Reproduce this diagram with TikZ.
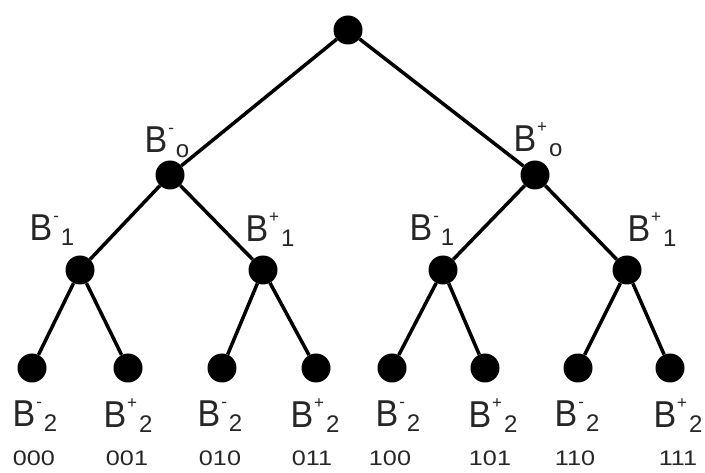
\documentclass[tikz,border=0pt]{standalone}
\usepackage{fontspec}
\setmainfont{Liberation Sans}
\newcommand{\blab}[2]{\scalebox{1}[1.1]{\fontsize{34}{34}\selectfont B}\hspace{1pt}\raisebox{19pt}{\fontsize{17}{17}\selectfont #1}\hspace{2pt}\raisebox{-5pt}{\fontsize{24}{24}\selectfont #2}}
\newcommand{\bits}[1]{\scalebox{1.2}[1]{\fontsize{21}{21}\selectfont #1}}
\begin{document}
\begin{tikzpicture}[x=1pt,y=-1pt,
  dot/.style={circle,fill=black,inner sep=0pt,minimum size=29pt},
  edge/.style={line width=3.5pt},
  lab/.style={inner sep=0pt,anchor=center,text=black!85}]
\useasboundingbox (0,0) rectangle (705,473);
% nodes
\node[dot] (r) at (348,30) {};
\node[dot] (L) at (170,175) {};
\node[dot] (R) at (535,175) {};
\node[dot] (LL) at (80,270) {};
\node[dot] (LR) at (263,270) {};
\node[dot] (RL) at (443,270) {};
\node[dot] (RR) at (627,270) {};
\node[dot] (a) at (32,368) {};
\node[dot] (b) at (128,368) {};
\node[dot] (c) at (222,368) {};
\node[dot] (d) at (316,368) {};
\node[dot] (e) at (392,368) {};
\node[dot] (f) at (485,368) {};
\node[dot] (g) at (578,368) {};
\node[dot] (h) at (670,368) {};
% edges
\draw[edge] (r) -- (L);
\draw[edge] (r) -- (R);
\draw[edge] (L) -- (LL);
\draw[edge] (L) -- (LR);
\draw[edge] (R) -- (RL);
\draw[edge] (R) -- (RR);
\draw[edge] (LL) -- (a);
\draw[edge] (LL) -- (b);
\draw[edge] (LR) -- (c);
\draw[edge] (LR) -- (d);
\draw[edge] (RL) -- (e);
\draw[edge] (RL) -- (f);
\draw[edge] (RR) -- (g);
\draw[edge] (RR) -- (h);
% inner labels
\node[lab] (lL) at (167,142) {\blab{-}{o}};
\node[lab] (lR) at (538,140) {\blab{+}{o}};
\node[lab] (lLL) at (52,230) {\blab{-}{1}};
\node[lab] (lLR) at (270,230) {\blab{+}{1}};
\node[lab] (lRL) at (432,230) {\blab{-}{1}};
\node[lab] (lRR) at (652,230) {\blab{+}{1}};
% leaf labels
\node[lab] (la) at (35,416) {\blab{-}{2}};
\node[lab] (lb) at (128,416) {\blab{+}{2}};
\node[lab] (lc) at (220,416) {\blab{-}{2}};
\node[lab] (ld) at (315,416) {\blab{+}{2}};
\node[lab] (le) at (398,416) {\blab{-}{2}};
\node[lab] (lf) at (493,416) {\blab{+}{2}};
\node[lab] (lg) at (577,416) {\blab{-}{2}};
\node[lab] (lh) at (678,416) {\blab{+}{2}};
% bit labels
\node[lab] (ba) at (34,458) {\bits{000}};
\node[lab] (bb) at (127,458) {\bits{001}};
\node[lab] (bc) at (220,458) {\bits{010}};
\node[lab] (bd) at (312,458) {\bits{011}};
\node[lab] (be) at (390,458) {\bits{100}};
\node[lab] (bf) at (490,458) {\bits{101}};
\node[lab] (bg) at (575,458) {\bits{110}};
\node[lab] (bh) at (678,458) {\bits{111}};
\end{tikzpicture}
\end{document}
